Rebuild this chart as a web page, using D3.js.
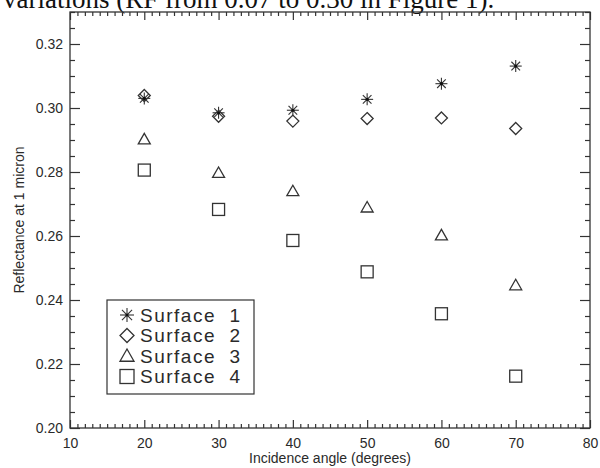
<!DOCTYPE html>
<html>
<head>
<meta charset="utf-8">
<script src="https://cdn.jsdelivr.net/npm/d3@7"></script>
<style>
  html, body { margin: 0; padding: 0; background: #fff; }
  svg { display: block; }
  text { font-family: "Liberation Sans", "DejaVu Sans", sans-serif; fill: #2a2a2a; }
</style>
</head>
<body>
<svg id="chart" width="600" height="468"></svg>
<script>
// ---- data ----
const angles = [20, 30, 40, 50, 60, 70];
const surface1 = [0.3030, 0.2985, 0.2993, 0.3027, 0.3076, 0.3131];
const surface2 = [0.3039, 0.2974, 0.2959, 0.2967, 0.2969, 0.2936];
const surface3 = [0.2902, 0.2797, 0.2740, 0.2689, 0.2602, 0.2446];
const surface4 = [0.2806, 0.2683, 0.2586, 0.2488, 0.2357, 0.2162];
const seriesNames = ["Surface  1", "Surface  2", "Surface  3", "Surface  4"];
const seriesSymbols = ["star", "diamond", "triangle", "square"];
const xTicks = [10, 20, 30, 40, 50, 60, 70, 80];
const yTicks = [0.20, 0.22, 0.24, 0.26, 0.28, 0.30, 0.32];
const xTitle = "Incidence angle (degrees)";
const yTitle = "Reflectance at 1 micron";
const topText = "variations (RF from 0.07 to 0.30 in Figure 1).";

const series = [surface1, surface2, surface3, surface4];

const svg = d3.select("#chart");
const ink = "#333";

// top clipped caption
svg.append("text")
  .attr("x", 3).attr("y", 8)
  .style("font-family", "'Liberation Serif', 'Times New Roman', serif")
  .style("font-size", "27px")
  .style("fill", "#111")
  .text(topText);

const L = 70, R = 590, T = 12, B = 428;
const x = d3.scaleLinear().domain([10, 80]).range([L, R]);
const y = d3.scaleLinear().domain([0.20, 0.33]).range([B, T]);

const xMinor = d3.range(10, 80.001, 1).filter(v => v % 10 !== 0);
const yMinor = d3.range(0.200, 0.3301, 0.005).map(v => +v.toFixed(3))
  .filter(v => Math.round(v * 1000) % 20 !== 0);

function styleAxis(g) {
  g.select(".domain").remove();
  g.selectAll("line").attr("stroke", ink).attr("stroke-width", 1.2);
  g.selectAll("text").style("font-size", "14px").attr("fill", "#2a2a2a")
    .style("font-family", "'Liberation Sans', 'DejaVu Sans', sans-serif");
}

// bottom axis
svg.append("g").attr("transform", `translate(0,${B})`)
  .call(d3.axisBottom(x).tickValues(xTicks).tickSize(-8).tickPadding(10).tickFormat(d3.format("d")))
  .call(styleAxis);
svg.append("g").attr("transform", `translate(0,${B})`)
  .call(d3.axisBottom(x).tickValues(xMinor).tickSize(-4).tickFormat(""))
  .call(styleAxis);
// top axis
svg.append("g").attr("transform", `translate(0,${T})`)
  .call(d3.axisTop(x).tickValues(xTicks).tickSize(-8).tickFormat(""))
  .call(styleAxis);
svg.append("g").attr("transform", `translate(0,${T})`)
  .call(d3.axisTop(x).tickValues(xMinor).tickSize(-4).tickFormat(""))
  .call(styleAxis);
// left axis
svg.append("g").attr("transform", `translate(${L},0)`)
  .call(d3.axisLeft(y).tickValues(yTicks).tickSize(-10).tickPadding(7).tickFormat(d3.format(".2f")))
  .call(styleAxis);
svg.append("g").attr("transform", `translate(${L},0)`)
  .call(d3.axisLeft(y).tickValues(yMinor).tickSize(-5).tickFormat(""))
  .call(styleAxis);
// right axis
svg.append("g").attr("transform", `translate(${R},0)`)
  .call(d3.axisRight(y).tickValues(yTicks).tickSize(-10).tickFormat(""))
  .call(styleAxis);
svg.append("g").attr("transform", `translate(${R},0)`)
  .call(d3.axisRight(y).tickValues(yMinor).tickSize(-5).tickFormat(""))
  .call(styleAxis);

// frame
svg.append("rect")
  .attr("x", L).attr("y", T).attr("width", R - L).attr("height", B - T)
  .attr("fill", "none").attr("stroke", ink).attr("stroke-width", 1.3);

// titles
svg.append("text")
  .attr("x", (L + R) / 2).attr("y", 463)
  .attr("text-anchor", "middle")
  .style("font-size", "14px")
  .text(xTitle);
svg.append("text")
  .attr("transform", `translate(24,${(T + B) / 2}) rotate(-90)`)
  .attr("text-anchor", "middle")
  .style("font-size", "14px")
  .text(yTitle);

// symbols
function drawSymbol(g, type, cx, cy, s) {
  const h = s / 2;
  if (type === "star") {
    const d = h * 0.72;
    const segs = [[-h, 0, h, 0], [0, -h, 0, h], [-d, -d, d, d], [-d, d, d, -d]];
    segs.forEach(q => g.append("line")
      .attr("x1", cx + q[0]).attr("y1", cy + q[1]).attr("x2", cx + q[2]).attr("y2", cy + q[3])
      .attr("stroke", ink).attr("stroke-width", 1.1));
    g.append("circle").attr("cx", cx).attr("cy", cy).attr("r", 1.6).attr("fill", "#111");
  } else if (type === "diamond") {
    g.append("path")
      .attr("d", `M${cx},${cy - h}L${cx + h},${cy}L${cx},${cy + h}L${cx - h},${cy}Z`)
      .attr("fill", "none").attr("stroke", ink).attr("stroke-width", 1.3);
  } else if (type === "triangle") {
    g.append("path")
      .attr("d", `M${cx},${cy - h}L${cx + h},${cy + h * 0.75}L${cx - h},${cy + h * 0.75}Z`)
      .attr("fill", "none").attr("stroke", ink).attr("stroke-width", 1.3);
  } else if (type === "square") {
    g.append("rect")
      .attr("x", cx - h).attr("y", cy - h).attr("width", s).attr("height", s)
      .attr("fill", "none").attr("stroke", ink).attr("stroke-width", 1.3);
  }
}

const marks = svg.append("g");
series.forEach((vals, i) => {
  vals.forEach((v, j) => {
    drawSymbol(marks, seriesSymbols[i], x(angles[j]), y(v), 12);
  });
});

// legend
const lg = svg.append("g");
lg.append("rect")
  .attr("x", 107).attr("y", 300).attr("width", 147).attr("height", 94)
  .attr("fill", "#fff").attr("stroke", ink).attr("stroke-width", 1.2);
const rowY = [315, 335.5, 356, 376.5];
seriesNames.forEach((name, i) => {
  drawSymbol(lg, seriesSymbols[i], 127, rowY[i], 14);
  lg.append("text")
    .attr("x", 140).attr("y", rowY[i]).attr("dy", "0.36em")
    .attr("xml:space", "preserve")
    .style("white-space", "pre")
    .style("font-size", "19px").style("letter-spacing", "1.5px")
    .text(name);
});
</script>
</body>
</html>
